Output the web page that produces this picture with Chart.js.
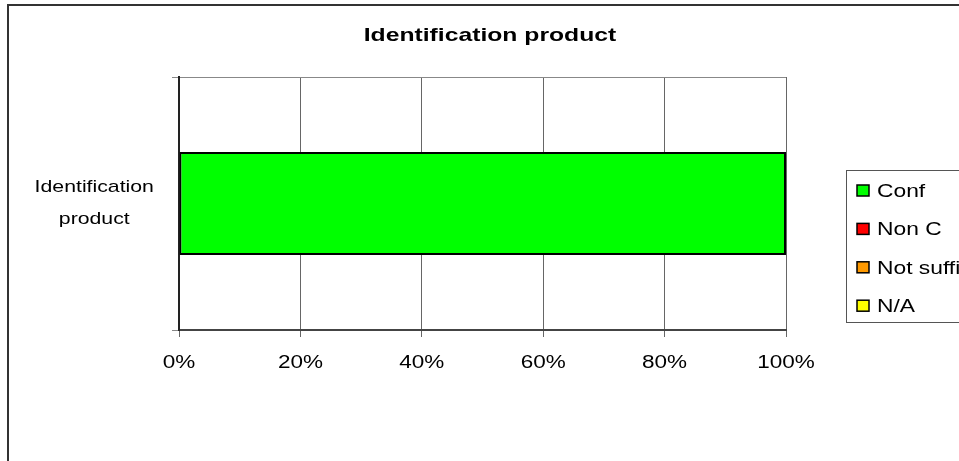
<!DOCTYPE html>
<html>
<head>
<meta charset="utf-8">
<script src="https://cdn.jsdelivr.net/npm/chart.js@4.4.1/dist/chart.umd.min.js"></script>
<style>
  html, body { margin: 0; padding: 0; background: #fff; overflow: hidden; }
  #wrap { width: 959px; height: 461px; }
</style>
</head>
<body>
<div id="wrap"><canvas id="c" width="959" height="461"></canvas></div>
<script>
const chartTitle = 'Identification product';
const categories = [['Identification', 'product']];
const seriesNames = ['Conf', 'Non C', 'Not sufficient', 'N/A'];
const seriesColors = ['#00ff00', '#ff0000', '#ff9900', '#ffff00'];
const conf = [100];
const nonConf = [0];
const notSufficient = [0];
const notApplicable = [0];
const xTicks = [0, 20, 40, 60, 80, 100];

const FONT = '"Liberation Sans", Arial, sans-serif';
const STRETCH = 1.25;
const seriesValues = [conf, nonConf, notSufficient, notApplicable];

// wide-ish text, like the old spreadsheet export
function wideText(ctx, text, x, y, stretch) {
  ctx.save();
  ctx.translate(x, y);
  ctx.scale(stretch, 1);
  ctx.fillText(text, 0, 0);
  ctx.restore();
}

// axis labels get the same horizontal stretch while the scales are drawn
const wideAxisText = {
  id: 'wideAxisText',
  beforeDraw(chart) {
    const ctx = chart.ctx;
    const plain = CanvasRenderingContext2D.prototype.fillText;
    ctx.fillText = function (text, x, y) {
      this.save();
      this.translate(x, y);
      this.scale(STRETCH, 1);
      plain.call(this, text, 0, 0);
      this.restore();
    };
  },
  beforeDatasetsDraw(chart) {
    delete chart.ctx.fillText;
  }
};

// frame, title and legend drawn by hand so they sit where the sheet put them
const sheetDecor = {
  id: 'sheetDecor',
  afterDraw(chart) {
    const ctx = chart.ctx;
    ctx.save();

    // outer chart frame
    ctx.strokeStyle = '#333';
    ctx.lineWidth = 2;
    ctx.strokeRect(8, 5, 1100, 1000);

    // title
    ctx.fillStyle = '#000';
    ctx.font = 'bold 19px ' + FONT;
    ctx.textAlign = 'center';
    ctx.textBaseline = 'alphabetic';
    wideText(ctx, chartTitle, 490, 41, 1.3);

    // legend box
    ctx.strokeStyle = '#555';
    ctx.lineWidth = 1;
    ctx.strokeRect(846.5, 170.5, 200, 152);
    ctx.font = '19px ' + FONT;
    ctx.textAlign = 'left';
    ctx.textBaseline = 'middle';
    chart.data.datasets.forEach((ds, i) => {
      const y = 190.5 + i * 38.4;
      ctx.fillStyle = ds.backgroundColor;
      ctx.fillRect(857, y - 5.5, 12, 11);
      ctx.strokeStyle = '#000';
      ctx.lineWidth = 1.5;
      ctx.strokeRect(857, y - 5.5, 12, 11);
      ctx.fillStyle = '#000';
      wideText(ctx, ds.label, 877, y + 1, 1.2);
    });
    ctx.restore();
  }
};

new Chart(document.getElementById('c'), {
  type: 'bar',
  data: {
    labels: categories,
    datasets: seriesNames.map((name, i) => ({
      label: name,
      data: seriesValues[i],
      backgroundColor: seriesColors[i],
      borderColor: '#000',
      borderWidth: ctx => (ctx.raw ? 2 : 0),
      borderSkipped: false,
      barPercentage: 0.407,
      categoryPercentage: 1
    }))
  },
  options: {
    indexAxis: 'y',
    responsive: false,
    animation: false,
    layout: { padding: { top: 77, right: 173, bottom: 0, left: 0 } },
    plugins: {
      legend: { display: false },
      title: { display: false },
      tooltip: { enabled: false }
    },
    scales: {
      x: {
        stacked: true,
        min: 0,
        max: 100,
        afterFit(scale) { scale.height = 131; },
        afterBuildTicks(scale) { scale.ticks = xTicks.map(v => ({ value: v })); },
        ticks: {
          color: '#000',
          padding: 15,
          font: { family: FONT, size: 18 },
          callback: v => v + '%'
        },
        grid: { color: '#666', lineWidth: 1, tickLength: 7 },
        border: { color: '#444', width: 2 }
      },
      y: {
        stacked: true,
        afterFit(scale) { scale.width = 179; },
        ticks: {
          color: '#000',
          crossAlign: 'center',
          padding: 30,
          font: { family: FONT, size: 17, lineHeight: 1.9 }
        },
        grid: { color: '#888', lineWidth: 1, tickLength: 7, offset: true },
        border: { color: '#222', width: 2 }
      }
    }
  },
  plugins: [wideAxisText, sheetDecor]
});
</script>
</body>
</html>
